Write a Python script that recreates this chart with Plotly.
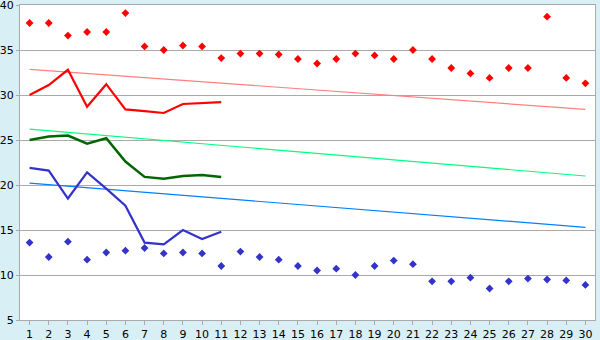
import plotly.graph_objects as go

days = list(range(1, 31))
days11 = list(range(1, 12))

red_points = [38, 38, 36.6, 37, 37, 39.1, 35.4, 35, 35.5, 35.4,
              34.1, 34.6, 34.6, 34.5, 34, 33.5, 34, 34.6, 34.4, 34,
              35, 34, 33, 32.4, 31.9, 33, 33, 38.7, 31.9, 31.3]
blue_points = [13.6, 12, 13.7, 11.7, 12.5, 12.7, 13, 12.4, 12.5, 12.4,
               11, 12.6, 12, 11.7, 11, 10.5, 10.7, 10, 11, 11.6,
               11.2, 9.3, 9.3, 9.7, 8.5, 9.3, 9.6, 9.5, 9.4, 8.9]
red_line = [30, 31.1, 32.8, 28.7, 31.2, 28.4, 28.2, 28, 29, 29.1, 29.2]
green_line = [25, 25.4, 25.5, 24.6, 25.2, 22.6, 20.9, 20.7, 21, 21.1, 20.9]
blue_line = [21.9, 21.6, 18.5, 21.4, 19.6, 17.7, 13.6, 13.4, 15, 14, 14.8]

trend_x = [1, 30]
red_trend = [32.85, 28.4]
green_trend = [26.2, 21.0]
blue_trend = [20.2, 15.3]

fig = go.Figure()
fig.add_trace(go.Scatter(x=trend_x, y=red_trend, mode="lines",
                         line=dict(color="#FF7F7F", width=1.2)))
fig.add_trace(go.Scatter(x=trend_x, y=green_trend, mode="lines",
                         line=dict(color="#00FF7F", width=1.2)))
fig.add_trace(go.Scatter(x=trend_x, y=blue_trend, mode="lines",
                         line=dict(color="#0080FF", width=1.2)))
fig.add_trace(go.Scatter(x=days11, y=red_line, mode="lines",
                         line=dict(color="#FF0000", width=2.2)))
fig.add_trace(go.Scatter(x=days11, y=green_line, mode="lines",
                         line=dict(color="#006600", width=2.5)))
fig.add_trace(go.Scatter(x=days11, y=blue_line, mode="lines",
                         line=dict(color="#3333CC", width=2.2)))
fig.add_trace(go.Scatter(x=days, y=red_points, mode="markers",
                         marker=dict(color="#FF0000", symbol="diamond", size=6)))
fig.add_trace(go.Scatter(x=days, y=blue_points, mode="markers",
                         marker=dict(color="#3333CC", symbol="diamond", size=6)))

axis_col = "#AAAAAA"
fig.update_layout(
    width=600, height=340,
    margin=dict(l=20, r=5, t=5, b=20),
    paper_bgcolor="#D9EFF6",
    plot_bgcolor="#FFFFFF",
    showlegend=False,
    font=dict(family="DejaVu Sans", size=11, color="#000000"),
    xaxis=dict(range=[0.5, 30.5], tickvals=days, ticktext=[str(d) for d in days],
               showgrid=False, zeroline=False, showline=True, linecolor=axis_col,
               linewidth=1, mirror=True, ticks="outside", ticklen=4,
               tickcolor=axis_col, tickfont=dict(size=11),
               ticklabeloverflow="allow", automargin=False),
    yaxis=dict(range=[5, 40], tickvals=[5, 10, 15, 20, 25, 30, 35, 40],
               showgrid=True, gridcolor=axis_col, gridwidth=1, zeroline=False,
               showline=True, linecolor=axis_col, linewidth=1, mirror=True,
               ticks="outside", ticklen=3, tickcolor=axis_col,
               tickfont=dict(size=11), ticklabeloverflow="allow",
               automargin=False),
)
fig.write_html("out.html")
